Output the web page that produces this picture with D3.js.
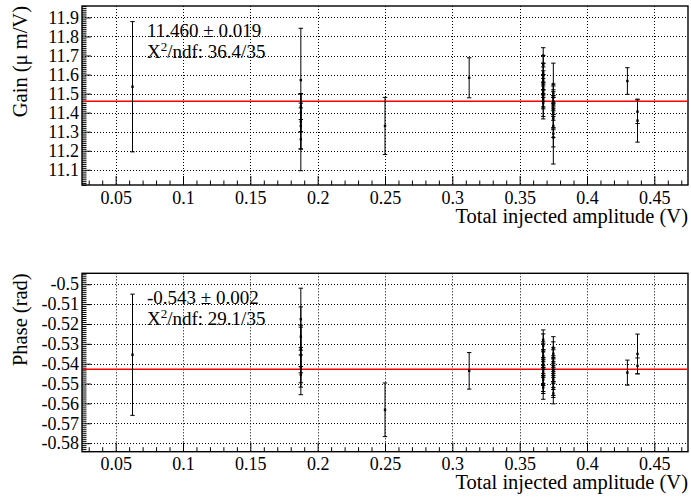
<!DOCTYPE html>
<html>
<head>
<meta charset="utf-8">
<script src="https://cdn.jsdelivr.net/npm/d3@7"></script>
<style>
  html, body { margin: 0; padding: 0; background: #fff; }
  svg { display: block; }
  text { font-family: "Liberation Serif", "Times New Roman", Times, "DejaVu Serif", serif; fill: #000; }
</style>
</head>
<body>
<svg id="chart" width="691" height="504"></svg>
<script>
// ---------- data ----------
const xTickValues = [0.05, 0.1, 0.15, 0.2, 0.25, 0.3, 0.35, 0.4, 0.45];
const xTickLabels = ["0.05", "0.1", "0.15", "0.2", "0.25", "0.3", "0.35", "0.4", "0.45"];

const gainTickValues = [11.1, 11.2, 11.3, 11.4, 11.5, 11.6, 11.7, 11.8, 11.9];
const gainTickLabels = ["11.1", "11.2", "11.3", "11.4", "11.5", "11.6", "11.7", "11.8", "11.9"];
const phaseTickValues = [-0.58, -0.57, -0.56, -0.55, -0.54, -0.53, -0.52, -0.51, -0.5];
const phaseTickLabels = ["-0.58", "-0.57", "-0.56", "-0.55", "-0.54", "-0.53", "-0.52", "-0.51", "-0.5"];

// amplitude (V) of each measurement
const amplitude = [
  0.0625,
  0.1875, 0.1875, 0.1875, 0.1875, 0.1875, 0.1875,
  0.25, 0.3125,
  0.3675, 0.3675, 0.3675, 0.3675, 0.3675, 0.3675, 0.3675, 0.3675, 0.3675, 0.3675, 0.3675, 0.3675,
  0.375, 0.375, 0.375, 0.375, 0.375, 0.375, 0.375, 0.375, 0.375, 0.375, 0.375, 0.375,
  0.43, 0.4375, 0.4375
];
const gain = [
  11.536,
  11.571, 11.432, 11.40, 11.353, 11.26, 11.33,
  11.33, 11.583,
  11.70, 11.65, 11.61, 11.59, 11.57, 11.55, 11.53, 11.51, 11.49, 11.47, 11.45, 11.43,
  11.55, 11.50, 11.48, 11.46, 11.45, 11.44, 11.42, 11.40, 11.37, 11.33, 11.29, 11.27,
  11.566, 11.405, 11.358
];
const gainErr = [
  0.342,
  0.272, 0.068, 0.10, 0.145, 0.165, 0.12,
  0.15, 0.105,
  0.041, 0.05, 0.05, 0.05, 0.05, 0.05, 0.05, 0.05, 0.06, 0.05, 0.07, 0.063,
  0.11, 0.05, 0.06, 0.05, 0.07, 0.05, 0.06, 0.08, 0.06, 0.06, 0.16, 0.05,
  0.07, 0.062, 0.113
];
const phase = [
  -0.5355,
  -0.5176, -0.5264, -0.5326, -0.5356, -0.5418, -0.5456,
  -0.5632, -0.5436,
  -0.528, -0.531, -0.534, -0.536, -0.538, -0.540, -0.542, -0.544, -0.546, -0.548, -0.550, -0.552,
  -0.532, -0.535, -0.537, -0.539, -0.541, -0.543, -0.544, -0.546, -0.548, -0.550, -0.552, -0.555,
  -0.5445, -0.5351, -0.5411
];
const phaseErr = [
  0.0305,
  0.0156, 0.015, 0.012, 0.014, 0.010, 0.010,
  0.0135, 0.0092,
  0.005, 0.006, 0.005, 0.006, 0.005, 0.006, 0.005, 0.006, 0.005, 0.006, 0.005, 0.0059,
  0.0056, 0.006, 0.005, 0.006, 0.005, 0.006, 0.005, 0.006, 0.005, 0.006, 0.005, 0.0052,
  0.0063, 0.010, 0.004
];

const gainFit = 11.460;
const phaseFit = -0.5428;
const gainFitText = ["11.460 ± 0.019", "36.4/35"];
const phaseFitText = ["-0.543 ± 0.002", "29.1/35"];

// ---------- layout ----------
const svg = d3.select("#chart");
const left = 82, right = 688;
const x = d3.scaleLinear().domain([0.025, 0.475]).range([left, right]);
const FONT = "Liberation Serif, Times New Roman, Times, serif";

const panels = [
  { top: 6, bottom: 185, domain: [11.02, 11.96], ticks: gainTickValues, labels: gainTickLabels,
    minorStep: 0.01, vals: gain, errs: gainErr, fit: gainFit, fitText: gainFitText,
    ytitle: "Gain (μ m/V)" },
  { top: 273.3, bottom: 451.7, domain: [-0.5843, -0.4945], ticks: phaseTickValues, labels: phaseTickLabels,
    minorStep: 0.001, vals: phase, errs: phaseErr, fit: phaseFit, fitText: phaseFitText,
    ytitle: "Phase (rad)" }
];

const xMinor = d3.range(3, 48).map(i => i / 100).filter(v => !xTickValues.some(t => Math.abs(t - v) < 1e-9));

panels.forEach(p => {
  const y = d3.scaleLinear().domain(p.domain).range([p.bottom, p.top]);
  const g = svg.append("g");
  const h = p.bottom - p.top;

  // grid
  g.append("g").selectAll("line").data(xTickValues).join("line")
    .attr("x1", d => Math.round(x(d)) + 0.5).attr("x2", d => Math.round(x(d)) + 0.5)
    .attr("y1", p.top).attr("y2", p.bottom)
    .attr("stroke", "#000").attr("stroke-width", 1).attr("stroke-dasharray", "1,2");
  g.append("g").selectAll("line").data(p.ticks).join("line")
    .attr("x1", left).attr("x2", right)
    .attr("y1", d => Math.round(y(d)) + 0.5).attr("y2", d => Math.round(y(d)) + 0.5)
    .attr("stroke", "#000").attr("stroke-width", 1).attr("stroke-dasharray", "1,2");

  // x axis (bottom)
  const xAxis = d3.axisBottom(x).tickValues(xTickValues)
    .tickFormat((d, i) => xTickLabels[i]).tickSize(-9).tickPadding(6).tickSizeOuter(0);
  const gx = g.append("g").attr("transform", `translate(0,${p.bottom})`).call(xAxis);
  const xAxisMinor = d3.axisBottom(x).tickValues(xMinor).tickFormat("").tickSize(-4.5).tickSizeOuter(0);
  const gxm = g.append("g").attr("transform", `translate(0,${p.bottom})`).call(xAxisMinor);
  [gx, gxm].forEach(a => { a.select(".domain").remove(); a.selectAll("line").attr("stroke", "#000"); });
  gx.attr("font-family", FONT);
  gx.selectAll("text").attr("font-size", 18);

  // y axis (left)
  const yMinor = d3.range(Math.ceil(p.domain[0] / p.minorStep), Math.floor(p.domain[1] / p.minorStep) + 1)
    .map(i => i * p.minorStep).filter(v => !p.ticks.some(t => Math.abs(t - v) < p.minorStep / 10));
  const yAxis = d3.axisLeft(y).tickValues(p.ticks)
    .tickFormat((d, i) => p.labels[i]).tickSize(-9).tickPadding(3).tickSizeOuter(0);
  const gy = g.append("g").attr("transform", `translate(${left},0)`).call(yAxis);
  const yAxisMinor = d3.axisLeft(y).tickValues(yMinor).tickFormat("").tickSize(-4.5).tickSizeOuter(0);
  const gym = g.append("g").attr("transform", `translate(${left},0)`).call(yAxisMinor);
  [gy, gym].forEach(a => { a.select(".domain").remove(); a.selectAll("line").attr("stroke", "#000"); });
  gy.attr("font-family", FONT);
  gy.selectAll("text").attr("font-size", 18);

  // frame
  g.append("rect").attr("x", left).attr("y", p.top).attr("width", right - left).attr("height", h)
    .attr("fill", "none").attr("stroke", "#000").attr("stroke-width", 1.4);

  // fit line
  g.append("line")
    .attr("x1", left + 1).attr("x2", right - 1)
    .attr("y1", y(p.fit)).attr("y2", y(p.fit))
    .attr("stroke", "#ff0000").attr("stroke-width", 1.4);

  // data points with error bars
  const pts = amplitude.map((a, i) => ({ a, v: p.vals[i], e: p.errs[i] }));
  const pg = g.append("g");
  pg.selectAll("line.bar").data(pts).join("line").attr("class", "bar")
    .attr("x1", d => x(d.a)).attr("x2", d => x(d.a))
    .attr("y1", d => y(d.v - d.e)).attr("y2", d => y(d.v + d.e))
    .attr("stroke", "#000").attr("stroke-width", 1);
  pg.selectAll("line.capt").data(pts).join("line").attr("class", "capt")
    .attr("x1", d => x(d.a) - 2.2).attr("x2", d => x(d.a) + 2.2)
    .attr("y1", d => y(d.v + d.e)).attr("y2", d => y(d.v + d.e))
    .attr("stroke", "#000").attr("stroke-width", 1);
  pg.selectAll("line.capb").data(pts).join("line").attr("class", "capb")
    .attr("x1", d => x(d.a) - 2.2).attr("x2", d => x(d.a) + 2.2)
    .attr("y1", d => y(d.v - d.e)).attr("y2", d => y(d.v - d.e))
    .attr("stroke", "#000").attr("stroke-width", 1);
  pg.selectAll("rect").data(pts).join("rect")
    .attr("x", d => x(d.a) - 1.2).attr("y", d => y(d.v) - 1.2)
    .attr("width", 2.4).attr("height", 2.4).attr("fill", "#000");

  // x title
  g.append("text").attr("x", right).attr("y", p.bottom + 37.5)
    .attr("text-anchor", "end").attr("font-size", 20.5).text("Total injected amplitude (V)");

  // y title
  g.append("text").attr("transform", `translate(27,${p.top}) rotate(-90)`)
    .attr("text-anchor", "end").attr("font-size", 20.5).text(p.ytitle);

  // fit text
  g.append("text").attr("x", 147).attr("y", p.top + 30.5).attr("font-size", 19).text(p.fitText[0]);
  const t2 = g.append("text").attr("x", 147).attr("y", p.top + 51.5).attr("font-size", 19);
  t2.append("tspan").text("X");
  t2.append("tspan").attr("font-size", 13).attr("dy", -7).text("2");
  t2.append("tspan").attr("dy", 7).text("/ndf: " + p.fitText[1]);
});
</script>
</body>
</html>
